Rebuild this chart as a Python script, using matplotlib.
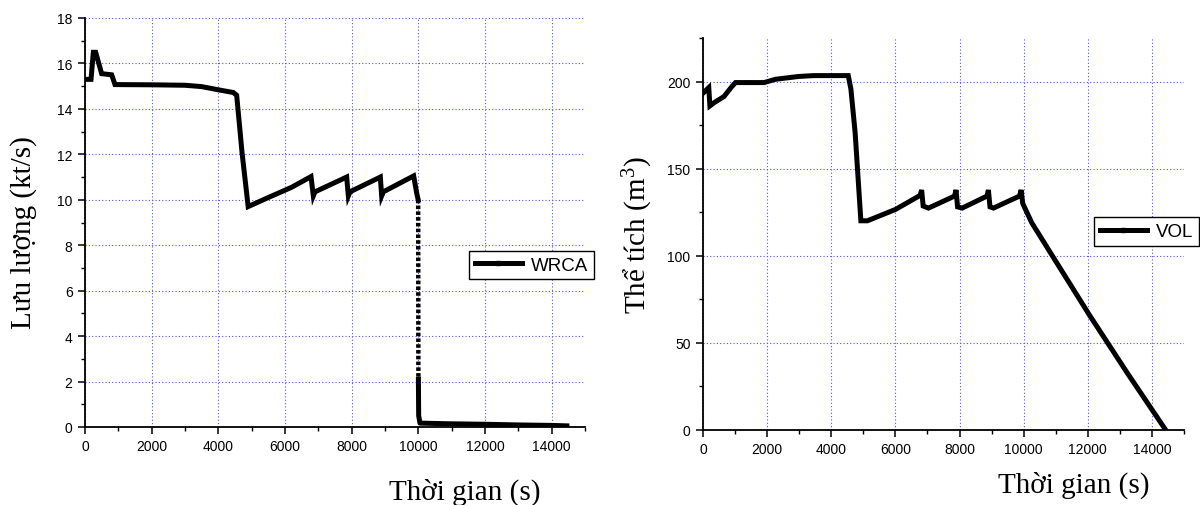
import numpy as np
import matplotlib
matplotlib.use("Agg")
import matplotlib.pyplot as plt
from matplotlib.ticker import MultipleLocator

plt.rcParams["mathtext.fontset"] = "custom"
plt.rcParams["mathtext.rm"] = "Liberation Serif"
plt.rcParams["mathtext.it"] = "Liberation Serif:italic"

# WRCA (flow rate)
wrca_t = [0, 180, 250, 320, 500, 800, 900, 2000, 3000, 3500, 4000, 4450,
          4550, 4711, 4895, 5500, 6200, 6780, 6850, 6900, 7850, 7900, 7950,
          8860, 8900, 8950, 9860, 9950, 9995]
wrca_v = [15.3, 15.3, 16.49, 16.49, 15.55, 15.5, 15.07, 15.06, 15.04, 14.98, 14.84, 14.72,
          14.6, 12.08, 9.7, 10.1, 10.55, 11.02, 10.17, 10.35, 11.0, 10.17, 10.35,
          11.0, 10.17, 10.35, 11.05, 10.3, 10.0]
# steep fall at ~10000 s (drawn dotted in the original)
fall_t = [9995, 9998, 10000, 10002]
fall_v = [10.0, 7.0, 4.0, 2.1]
tail_t = [10002, 10010, 10050, 11000, 12000, 13000, 14000, 14456]
tail_v = [2.1, 0.5, 0.17, 0.14, 0.12, 0.09, 0.07, 0.05]

# VOL (volume)
vol_t = [0, 180, 215, 360, 655, 895, 1013, 1907, 2265, 2980, 3457, 4530,
         4613, 4744, 4923, 5126, 6000, 6771, 6818, 6866, 7033, 7844, 7891, 7939,
         8082, 8857, 8900, 8950, 9059, 9870, 9920, 9970, 10251, 10966, 12039,
         13231, 14423]
vol_v = [193.3, 196.5, 186.0, 188.0, 191.4, 197.0, 199.4, 199.4, 201.3, 202.9, 203.4, 203.4,
         195.6, 170.7, 120.0, 120.0, 126.5, 134.6, 137.7, 128.5, 127.3, 134.2, 137.7, 128.0,
         127.3, 134.2, 137.7, 128.0, 127.3, 134.2, 137.7, 130.0, 118.9, 97.8, 66.2,
         32.6, 0.0]

GRID = dict(color="#5050ff", linestyle=(0, (1, 2)), linewidth=0.8)
TICK_FONT = "Liberation Sans"
LABEL_FONT = "Liberation Serif"
LEG = dict(frameon=True, fancybox=False, edgecolor="black", framealpha=1,
           prop={"family": TICK_FONT, "size": 13.5}, handlelength=2.5, borderpad=0.3,
           handletextpad=0.5, borderaxespad=0)

fig = plt.figure(figsize=(12, 5.06), dpi=100)


def style_axes(ax, xmax, ymax, ymajor, yminor):
    ax.set_xlim(0, xmax)
    ax.set_ylim(0, ymax)
    ax.xaxis.set_major_locator(MultipleLocator(2000))
    ax.xaxis.set_minor_locator(MultipleLocator(1000))
    ax.yaxis.set_major_locator(MultipleLocator(ymajor))
    ax.yaxis.set_minor_locator(MultipleLocator(yminor))
    for s in ("top", "right"):
        ax.spines[s].set_visible(False)
    for s in ("left", "bottom"):
        ax.spines[s].set_linewidth(1.3)
    ax.tick_params(which="major", direction="out", length=5, width=1.1, labelsize=10, pad=4)
    ax.tick_params(which="minor", direction="out", length=3, width=1.0)
    for lab in ax.get_xticklabels() + ax.get_yticklabels():
        lab.set_fontfamily(TICK_FONT)
    ax.grid(True, which="major", **GRID)
    ax.set_axisbelow(True)


# left panel
ax1 = fig.add_axes([85 / 1200, 1 - 428 / 506, 500 / 1200, 409 / 506])
ax1.plot(wrca_t, wrca_v, color="black", lw=3.6, solid_joinstyle="miter")
ax1.plot(fall_t, fall_v, color="black", lw=3.2, linestyle=(0, (0.8, 0.5)))
ax1.plot(tail_t, tail_v, color="black", lw=3.6)
style_axes(ax1, 15000, 18, 2, 1)
ax1.set_ylabel("Lưu lượng (kt/s)", fontfamily=LABEL_FONT, fontsize=21)
ax1.yaxis.set_label_coords(-0.096, 0.479)
fig.text(465 / 1200, 1 - 500 / 506, "Thời gian (s)", fontfamily=LABEL_FONT,
         fontsize=21, ha="center", va="baseline")
h1, = ax1.plot([], [], color="black", lw=3.6, marker="s", markersize=3, label="WRCA")
lg1 = ax1.legend(handles=[h1], loc="center left",
                 bbox_to_anchor=((469 - 85) / 500, (428 - 266.3) / 409), **LEG)
lg1.get_frame().set_linewidth(1.0)

# right panel
ax2 = fig.add_axes([703 / 1200, 1 - 430.7 / 506, 481 / 1200, 391.7 / 506])
ax2.plot(vol_t, vol_v, color="black", lw=3.6, solid_joinstyle="miter")
style_axes(ax2, 15000, 225, 50, 25)
ax2.set_ylabel("Thể tích (m$^3$)", fontfamily=LABEL_FONT, fontsize=21)
ax2.yaxis.set_label_coords(-0.10, 0.5)
fig.text(1074 / 1200, 1 - 493 / 506, "Thời gian (s)", fontfamily=LABEL_FONT,
         fontsize=21, ha="center", va="baseline")
h2, = ax2.plot([], [], color="black", lw=3.6, marker="s", markersize=3, label="VOL")
lg2 = ax2.legend(handles=[h2], loc="center left",
                 bbox_to_anchor=((1094 - 703) / 481, (430.7 - 232.5) / 391.7), **LEG)
lg2.get_frame().set_linewidth(1.0)

fig.savefig("out.png", dpi=100)
